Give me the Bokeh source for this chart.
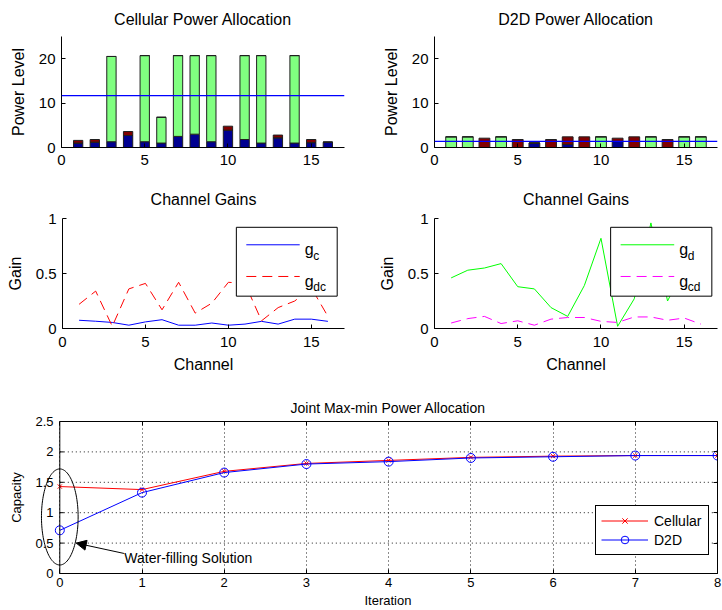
import numpy as np
from bokeh.plotting import figure
from bokeh.layouts import column, row
from bokeh.models import (Range1d, FixedTicker, NumeralTickFormatter, BoxAnnotation, Label,
                          Arrow, NormalHead, Span, PolyAnnotation, Legend, LegendItem,
                          LinearAxis, ColumnDataSource, CustomJSTickFormatter, Title)
from bokeh.embed import file_html
from bokeh.resources import INLINE

# ---------------- data ----------------
channels = list(range(1, 17))

cell_base = [1.0, 1.2, 1.3, 2.7, 1.3, 1.0, 2.5, 3.0, 1.3, 3.9, 1.8, 1.0, 2.2, 1.0, 1.1, 1.2]
cell_green = [0, 0, 19.2, 0, 19.4, 5.8, 18.2, 17.7, 19.4, 0, 18.9, 19.7, 0, 19.7, 0, 0]
cell_red = [0.6, 0.6, 0, 0.9, 0, 0, 0, 0, 0, 0.9, 0, 0, 0.6, 0, 0.7, 0]
cell_water_level = 11.7

d2d_base = [0, 0, 0, 0, 0, 1.0, 0, 0.7, 0, 0, 1.4, 0, 0, 0, 0, 0]
d2d_green = [2.4, 2.4, 0, 2.4, 0, 0, 0, 0, 0, 2.4, 0, 0, 2.4, 0, 2.4, 2.4]
d2d_red = [0, 0, 2.1, 0, 1.8, 0, 1.8, 1.7, 2.4, 0, 0.7, 2.4, 0, 1.8, 0, 0]
d2d_water_level = 1.4

g_c = [0.075, 0.066, 0.055, 0.03, 0.06, 0.08, 0.03, 0.03, 0.05, 0.03, 0.04, 0.065, 0.04, 0.085, 0.085, 0.065]
g_dc = [0.22, 0.34, 0.02, 0.36, 0.41, 0.17, 0.42, 0.14, 0.23, 0.42, 0.41, 0.07, 0.19, 0.25, 0.37, 0.11]
g_d = [0.46, 0.53, 0.55, 0.59, 0.38, 0.36, 0.19, 0.11, 0.39, 0.82, 0.02, 0.27, 0.96, 0.25, 0.55, 0.45]
g_cd = [0.05, 0.09, 0.11, 0.045, 0.07, 0.03, 0.085, 0.1, 0.1, 0.065, 0.055, 0.105, 0.105, 0.075, 0.095, 0.04]

iterations = list(range(9))
cap_cellular = [1.43, 1.38, 1.68, 1.81, 1.86, 1.91, 1.93, 1.94, 1.94]
cap_d2d = [0.71, 1.33, 1.66, 1.80, 1.84, 1.90, 1.92, 1.94, 1.94]

power_ticks = [0, 10, 20]
channel_ticks = [0, 5, 10, 15]
gain_ticks = [0, 0.5, 1]
cap_ticks = [0, 0.5, 1, 1.5, 2, 2.5]

# ---------------- style ----------------
FONT = "Liberation Sans"
NAVY = "#000090"
LGREEN = "#80FF80"
DRED = "#800000"


def base_fig(w, h, l, r, t, b, xr, yr, title, fs_title, standoff):
    p = figure(width=w, height=h, min_border_left=l, min_border_right=r,
               min_border_top=t, min_border_bottom=b, x_range=Range1d(*xr),
               y_range=Range1d(*yr), output_backend="svg", toolbar_location=None,
               title=title)
    p.title.text_font = FONT
    p.title.text_font_size = fs_title
    p.title.text_font_style = "normal"
    p.title.align = "center"
    p.title.text_color = "black"
    p.title.standoff = standoff
    p.background_fill_color = "white"
    p.border_fill_color = "white"
    p.grid.visible = False
    p.outline_line_color = None
    return p


def style_axes(p, xticks, yticks, fs_tick, fs_label, xlabel=None, ylabel=None,
               xstand=4, ystand=6, xls=4, yls=8):
    for ax in p.xaxis + p.yaxis:
        ax.major_tick_in = 4
        ax.major_tick_out = 0
        ax.minor_tick_line_color = None
        ax.axis_line_color = "black"
        ax.major_tick_line_color = "black"
        ax.major_label_text_font = FONT
        ax.major_label_text_font_size = fs_tick
        ax.major_label_text_color = "black"
        ax.axis_label_text_font = FONT
        ax.axis_label_text_font_size = fs_label
        ax.axis_label_text_font_style = "normal"
        ax.axis_label_text_color = "black"
        ax.formatter = NumeralTickFormatter(format="0.[0]")
    p.xaxis.ticker = FixedTicker(ticks=xticks)
    p.yaxis.ticker = FixedTicker(ticks=yticks)
    p.xaxis.major_label_standoff = xstand
    p.yaxis.major_label_standoff = ystand
    p.xaxis.axis_label_standoff = xls
    p.yaxis.axis_label_standoff = yls
    if xlabel:
        p.xaxis.axis_label = xlabel
    if ylabel:
        p.yaxis.axis_label = ylabel


def power_fig(title, base, green, red, level, l, r, width):
    p = base_fig(361, 175, l, r, 36, 28, (0, 17), (0, 25), title, "16px", 17)
    src = ColumnDataSource(dict(ch=channels, base=base, green=green, red=red))
    p.vbar_stack(["base", "green", "red"], x="ch", width=width, source=src,
                 fill_color=[NAVY, LGREEN, DRED], line_color="#202020", line_width=1)
    p.add_layout(Span(location=level, dimension="width", line_color="#0000FF", line_width=1.2))
    style_axes(p, channel_ticks, power_ticks, "15px", "16px", ylabel="Power Level",
               xstand=7, ystand=6, yls=9)
    return p


def gain_fig(s1, s2, left, l, r):
    p = base_fig(361, 203, l, r, 43, 50, (0, 17), (0, 1), "Channel Gains", "16px", 21)
    (y1, c1, d1, n1), (y2, c2, d2, n2) = s1, s2
    p.line(channels, y1, line_color=c1, line_dash=d1, line_width=1)
    p.line(channels, y2, line_color=c2, line_dash=d2, line_width=1)
    style_axes(p, channel_ticks, gain_ticks, "15px", "16px", xlabel="Channel",
               ylabel="Gain", xstand=8, ystand=6, xls=6, yls=9)
    # legend box (MATLAB style, with subscripted labels)
    right = left + 6.08
    p.add_layout(BoxAnnotation(left=left, right=right, bottom=0.294, top=0.92,
                               fill_color="white", fill_alpha=1.0, line_color="black",
                               line_alpha=1.0, line_width=1))
    for yy, col, dash, sub in [(0.761, c1, d1, n1), (0.473, c2, d2, n2)]:
        p.add_layout(Arrow(end=None, x_start=left + 0.6, x_end=left + 3.82, y_start=yy,
                           y_end=yy, line_color=col, line_dash=dash, line_width=1))
        p.add_layout(Label(x=left + 4.12, y=yy - 0.045, text="g", text_font=FONT,
                           text_font_size="16px", text_baseline="alphabetic",
                           text_color="black"))
        p.add_layout(Label(x=left + 4.64, y=yy - 0.1, text=sub, text_font=FONT,
                           text_font_size="12px", text_baseline="alphabetic",
                           text_color="black"))
    return p


p1 = power_fig("Cellular Power Allocation", cell_base, cell_green, cell_red,
               cell_water_level, 61, 17, 0.56)
p2 = power_fig("D2D Power Allocation", d2d_base, d2d_green, d2d_red,
               d2d_water_level, 73, 5, 0.65)

p3 = gain_fig((g_c, "#0000FF", "solid", "c"), (g_dc, "#FF0000", "10 6", "dc"), 10.48, 62, 17)
p4 = gain_fig((g_d, "#00FF00", "solid", "d"), (g_cd, "#FF00FF", "10 6", "cd"), 10.58, 73, 5)

# ---------------- bottom plot ----------------
# The frame starts 25 px left of the y axis (x = 0) so that the ellipse annotation,
# which crosses the axis in the original, is not clipped. The y axis is drawn at x = 0.
FRAME_LEFT = 34
X_PAD = 0.3077
p5 = base_fig(722, 232, FRAME_LEFT, 5, 43, 37, (-X_PAD, 8), (0, 2.5),
              "Joint Max-min Power Allocation", "14px", 12)
p5.title.align = "left"
p5.title.offset = 256
p5.grid.visible = True
p5.xgrid.ticker = FixedTicker(ticks=iterations)
p5.ygrid.visible = False
p5.xgrid.grid_line_color = "black"
p5.xgrid.grid_line_dash = "1 3"
p5.xgrid.grid_line_alpha = 0.9

# horizontal dotted grid restricted to the axes box
p5.segment(x0=[0] * len(cap_ticks), x1=[max(iterations)] * len(cap_ticks),
           y0=cap_ticks, y1=cap_ticks, line_color="black", line_dash="1 3",
           line_alpha=0.9, line_width=1)

r1 = p5.line(iterations, cap_cellular, line_color="#FF0000", line_width=1)
s1 = p5.scatter(iterations, cap_cellular, marker="x", size=6, line_color="#FF0000",
                line_width=1)
r2 = p5.line(iterations, cap_d2d, line_color="#0000FF", line_width=1)
s2 = p5.scatter(iterations, cap_d2d, marker="circle", size=9, line_color="#0000FF",
                fill_color=None, line_width=1)

style_axes(p5, iterations, cap_ticks, "13px", "13px",
           ylabel="Capacity", xstand=4, ystand=-19, xls=3, yls=8)
p5.xaxis.bounds = (0, 8)
p5.yaxis.axis_line_color = None
p5.yaxis.major_tick_line_color = None

# x axis label centred under the axes box (x = 0..8), not under the wider frame
p5.add_layout(Title(text="Iteration", align="left", offset=330, standoff=2,
                    text_font=FONT, text_font_size="13px", text_font_style="normal",
                    text_color="black"), "below")

# y axis spine at x = 0 with inward ticks
p5.add_layout(Span(location=0, dimension="height", line_color="black", line_width=1))
tick_len = 4 / ((722 - FRAME_LEFT - 5) / (8 + X_PAD))
p5.segment(x0=[0] * len(cap_ticks), x1=[tick_len] * len(cap_ticks), y0=cap_ticks,
           y1=cap_ticks, line_color="black", line_width=1)

# mirror ticks on top and right (box on)
blank = CustomJSTickFormatter(code="return ''")
top_ax = LinearAxis(ticker=FixedTicker(ticks=iterations), formatter=blank, bounds=(0, 8))
right_ax = LinearAxis(ticker=FixedTicker(ticks=cap_ticks), formatter=blank)
for ax in (top_ax, right_ax):
    ax.major_tick_in = 4
    ax.major_tick_out = 0
    ax.minor_tick_line_color = None
    ax.axis_line_color = "black"
    ax.major_tick_line_color = "black"
    ax.major_label_standoff = 0
p5.add_layout(top_ax, "above")
p5.add_layout(right_ax, "right")

leg = Legend(items=[LegendItem(label="Cellular", renderers=[r1, s1]),
                    LegendItem(label="D2D", renderers=[r2, s2])],
             location=(561, 18), padding=5, spacing=0, margin=0,
             label_height=19, glyph_height=19, glyph_width=47, label_width=49,
             label_standoff=6, label_text_font=FONT, label_text_font_size="14px",
             label_text_color="black", border_line_color="black", border_line_alpha=1.0,
             border_line_width=1, background_fill_color="white", background_fill_alpha=1.0)
p5.add_layout(leg)

# ellipse annotation around the water-filling solution
t = np.linspace(0, 2 * np.pi, 120)
ell = PolyAnnotation(xs=list(0.0 + 0.223 * np.cos(t)), ys=list(0.93 + 0.79 * np.sin(t)),
                     xs_units="data", ys_units="data", fill_alpha=0.0,
                     line_color="black", line_width=1, line_alpha=1.0)
p5.add_layout(ell)
p5.add_layout(Arrow(end=NormalHead(size=10, fill_color="black", line_color="black"),
                    x_start=0.78, y_start=0.33, x_end=0.2, y_end=0.5,
                    line_color="black", line_width=1))
p5.add_layout(Label(x=0.785, y=0.255, text="Water-filling Solution", text_font=FONT,
                    text_font_size="14px", text_baseline="middle", text_color="black"))

layout = column(row(p1, p2), row(p3, p4), p5)
open("out.html", "w").write(file_html(layout, INLINE))
